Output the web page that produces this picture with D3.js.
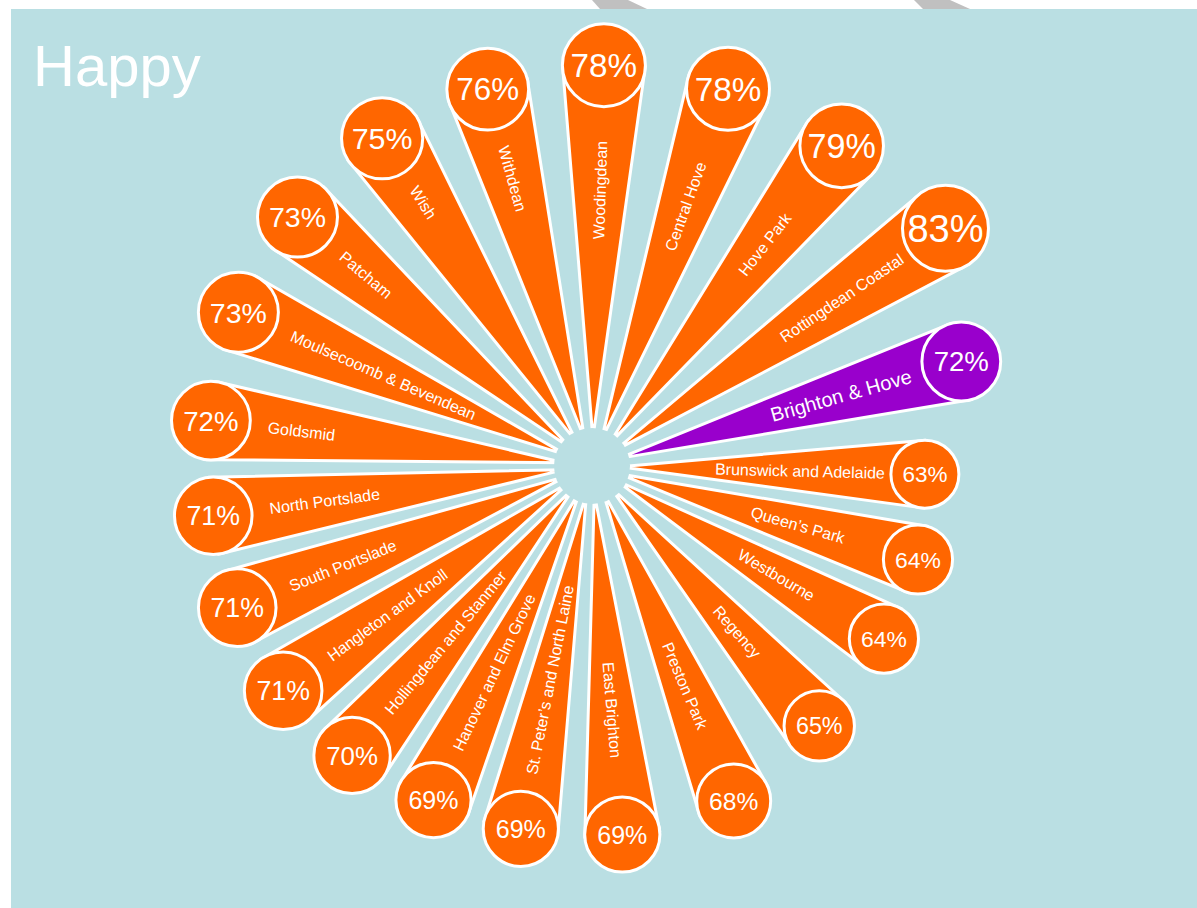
<!DOCTYPE html>
<meta charset="utf-8">
<title>Happy</title>
<style>

body {
  margin: 0;
  background: #fff;
}

text {
  font-family: "Liberation Sans", Arial, sans-serif;
  fill: #fff;
}

.spoke, .bubble {
  stroke: #fff;
  stroke-width: 3px;
  stroke-linejoin: round;
}

</style>
<body>
<script src="https://cdn.jsdelivr.net/npm/d3@7"></script>
<script>

// wards, clockwise round the ring starting at three o'clock
var wards = [
  "Brunswick and Adelaide", "Queen’s Park", "Westbourne", "Regency",
  "Preston Park", "East Brighton", "St. Peter’s and North Laine",
  "Hanover and Elm Grove", "Hollingdean and Stanmer", "Hangleton and Knoll",
  "South Portslade", "North Portslade", "Goldsmid", "Moulsecoomb & Bevendean",
  "Patcham", "Wish", "Withdean", "Woodingdean", "Central Hove", "Hove Park",
  "Rottingdean Coastal", "Brighton & Hove"
];

// percent happy
var happy = [63, 64, 64, 65, 68, 69, 69, 69, 70, 71, 71, 71, 72, 73, 73, 75, 76, 78, 78, 79, 83, 72];

var cityWide = "Brighton & Hove";

var w = 1197,
    h = 908,
    cx = 592,
    cy = 466,
    hole = 38,
    tip = 28;

// the ring isn't evenly spaced in the original, so the angle scale has a few knots
var angle = d3.scaleLinear()
    .domain([0, 2, 5, 6, 12, 14, 17, 21])
    .range([1.4, 30.6, 85.3, 101.1, 186.8, 220.2, 271.7, 344.2]);

var dist = d3.scaleLinear()
    .domain([63, 71, 76, 83])
    .range([333, 382, 391, 426]);

var radius = d3.scaleLinear()
    .domain([63, 73, 83])
    .range([34, 40, 43]);

var fontSize = d3.scaleLinear()
    .domain([63, 69, 73, 83])
    .range([22.5, 25, 28.5, 38]);

var color = function(d) { return d.name === cityWide ? "#9900cc" : "#ff6600"; };

var data = wards.map(function(name, i) {
  var a = angle(i) * Math.PI / 180,
      v = happy[i],
      r = radius(v),
      l = dist(v);
  return {
    name: name,
    value: v,
    deg: angle(i),
    cos: Math.cos(a),
    sin: Math.sin(a),
    r: r,
    len: l,
    x: cx + l * Math.cos(a),
    y: cy + l * Math.sin(a)
  };
});

var svg = d3.select("body").append("svg")
    .attr("width", w)
    .attr("height", h);

// the grey tabs peeking above the panel
svg.selectAll(".tab")
    .data([[592, 628, 647, 600], [914, 950, 970, 923]])
  .enter().append("path")
    .attr("class", "tab")
    .attr("fill", "#c0c0c0")
    .attr("d", function(t) { return "M" + t[0] + ",0H" + t[1] + "L" + t[2] + ",9H" + t[3] + "Z"; });

svg.append("rect")
    .attr("x", 11)
    .attr("y", 9)
    .attr("width", w - 11)
    .attr("height", h - 9)
    .attr("fill", "#badfe3");

svg.append("text")
    .attr("x", 33)
    .attr("y", 86)
    .style("font-size", "58px")
    .text("Happy");

svg.selectAll(".spoke")
    .data(data)
  .enter().append("path")
    .attr("class", "spoke")
    .attr("fill", color)
    .attr("d", function(d) {
      var px = -d.sin * d.r, py = d.cos * d.r;
      return "M" + (cx + tip * d.cos) + "," + (cy + tip * d.sin) +
          "L" + (d.x + px) + "," + (d.y + py) +
          "L" + (d.x - px) + "," + (d.y - py) + "Z";
    });

svg.append("circle")
    .attr("cx", cx)
    .attr("cy", cy)
    .attr("r", hole)
    .attr("fill", "#badfe3");

svg.selectAll(".bubble")
    .data(data)
  .enter().append("circle")
    .attr("class", "bubble")
    .attr("cx", function(d) { return d.x; })
    .attr("cy", function(d) { return d.y; })
    .attr("r", function(d) { return d.r; })
    .attr("fill", color);

svg.selectAll(".pct")
    .data(data)
  .enter().append("text")
    .attr("class", "pct")
    .attr("x", function(d) { return d.x; })
    .attr("y", function(d) { return d.y; })
    .attr("dy", "0.36em")
    .attr("text-anchor", "middle")
    .style("font-size", function(d) { return fontSize(d.value) + "px"; })
    .text(function(d) { return d.value + "%"; });

// names run along the spoke; right half reads outwards, left half inwards
svg.selectAll(".name")
    .data(data)
  .enter().append("text")
    .attr("class", "name")
    .attr("transform", function(d) {
      var right = d.cos > 0,
          p = right ? d.len - 125 : d.len - d.r - 18;
      return "translate(" + (cx + p * d.cos) + "," + (cy + p * d.sin) + ")rotate(" + (right ? d.deg : d.deg - 180) + ")";
    })
    .attr("dy", "0.35em")
    .attr("text-anchor", function(d) { return d.cos > 0 ? "middle" : "start"; })
    .style("font-size", function(d) { return d.name === cityWide ? "20px" : "16px"; })
    .text(function(d) { return d.name; });

</script>
